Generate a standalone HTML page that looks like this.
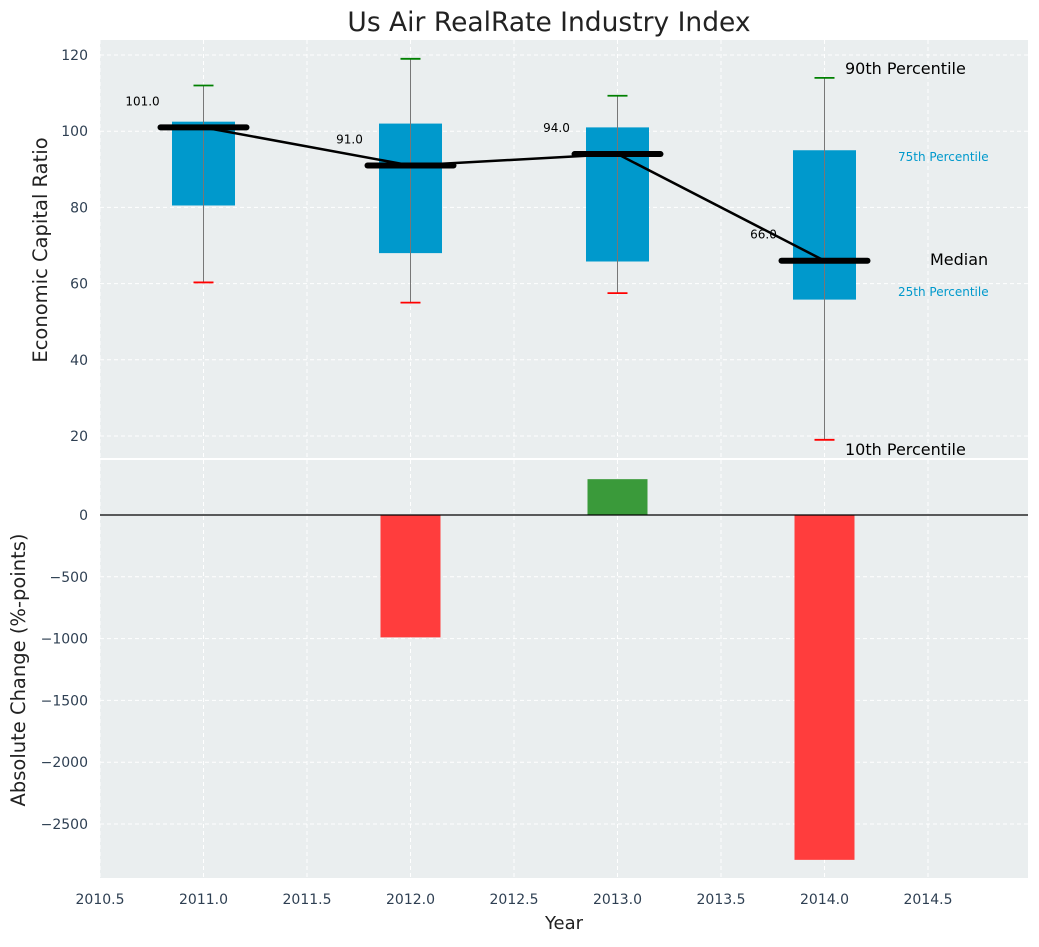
<!DOCTYPE html>
<html><head><meta charset="utf-8"><style>
body{margin:0;background:#fff;font-family:"Liberation Sans","DejaVu Sans",sans-serif}
svg text{font-family:"DejaVu Sans","Liberation Sans",sans-serif}
</style></head><body>
<svg id="chart" width="1039" height="942" xmlns="http://www.w3.org/2000/svg"></svg>
<script>
const years=[2011,2012,2013,2014];
const q1=[80.5,68,65.8,55.8];
const q3=[102.5,102,101,95];
const medians=[101,91,94,66];
const p10=[60.3,55,57.5,19];
const p90=[112,119,109.3,114];
const changes=[0,-990,290,-2790];
const xTicks=[2010.5,2011,2011.5,2012,2012.5,2013,2013.5,2014,2014.5];
const yTopTicks=[20,40,60,80,100,120];
const yBotTicks=[0,-500,-1000,-1500,-2000,-2500];

const svg=document.getElementById('chart');
const NS='http://www.w3.org/2000/svg';
function el(t,a,txt){const e=document.createElementNS(NS,t);for(const k in a)e.setAttribute(k,a[k]);if(txt!==undefined)e.textContent=txt;svg.appendChild(e);return e;}
const L=100,R=1028;
const X=v=>L+(v-2010.5)*207;
const T0=40,T1=458,B0=460,B1=878;
const YT=v=>55+(120-v)*3.81;
const YB=v=>515-v*0.1236;

let e;
e=el('rect',{x:L,y:T0,width:R-L,height:T1-T0,fill:'#eaeeef'});

e=el('rect',{x:L,y:B0,width:R-L,height:B1-B0,fill:'#eaeeef'});


xTicks.forEach(t=>{
  el('line',{x1:X(t),x2:X(t),y1:T0,y2:T1,stroke:'#fff','stroke-dasharray':'4,3','stroke-width':1});
  el('line',{x1:X(t),x2:X(t),y1:B0,y2:B1,stroke:'#fff','stroke-dasharray':'4,3','stroke-width':1});
  e=el('text',{x:X(t),y:904,'text-anchor':'middle','font-size':14,fill:'#2e3f52'},t.toFixed(1));
  
});
yTopTicks.forEach(t=>{
  el('line',{x1:L,x2:R,y1:YT(t),y2:YT(t),stroke:'#fff','stroke-dasharray':'4,3'});
  e=el('text',{x:88,y:YT(t)+5,'text-anchor':'end','font-size':14,fill:'#2e3f52'},t);
  
});
yBotTicks.forEach(t=>{
  el('line',{x1:L,x2:R,y1:YB(t),y2:YB(t),stroke:'#fff','stroke-dasharray':'4,3'});
  e=el('text',{x:88,y:YB(t)+5,'text-anchor':'end','font-size':14,fill:'#2e3f52'},t===0?'0':'\u2212'+Math.abs(t));
  
});

years.forEach((y,i)=>{
  const cx=X(y);
  e=el('rect',{x:cx-31.5,y:YT(q3[i]),width:63,height:YT(q1[i])-YT(q3[i]),fill:'#0099cc'});
  
  el('line',{x1:cx,x2:cx,y1:YT(p90[i]),y2:YT(p10[i]),stroke:'#777','stroke-width':1});
  e=el('line',{x1:cx-10,x2:cx+10,y1:YT(p90[i]),y2:YT(p90[i]),stroke:'green','stroke-width':1.8});
  
  e=el('line',{x1:cx-10,x2:cx+10,y1:YT(p10[i]),y2:YT(p10[i]),stroke:'red','stroke-width':1.8});
  
});
let pts=years.map((y,i)=>X(y)+','+YT(medians[i])).join(' ');
e=el('polyline',{points:pts,fill:'none',stroke:'#000','stroke-width':2.5});

years.forEach((y,i)=>{
  const cx=X(y);
  e=el('line',{x1:cx-43,x2:cx+43,y1:YT(medians[i]),y2:YT(medians[i]),stroke:'#000','stroke-width':6,'stroke-linecap':'round'});
  
  e=el('text',{x:cx-61,y:YT(medians[i])-22,'text-anchor':'middle','font-size':12,fill:'#000'},medians[i].toFixed(1));
  
});
const ann=[['90th Percentile',845,74,16,'#000'],['75th Percentile',898,161,12,'#0099cc'],['Median',930,265,16,'#000'],['25th Percentile',898,296,12,'#0099cc'],['10th Percentile',845,455,16,'#000']];
ann.forEach(a=>{e=el('text',{x:a[1],y:a[2],'font-size':a[3],fill:a[4]},a[0]);});

years.forEach((y,i)=>{
  const v=changes[i];if(v===0)return;
  const y0=YB(Math.max(v,0)),y1=YB(Math.min(v,0));
  e=el('rect',{x:X(y)-30,y:y0,width:60,height:y1-y0,fill:v<0?'#ff3d3d':'#3a9a3a'});
  
});
e=el('line',{x1:L,x2:R,y1:YB(0),y2:YB(0),stroke:'#000','stroke-width':1.2});


e=el('text',{x:549,y:31,'text-anchor':'middle','font-size':26.5,fill:'#222'},'Us Air RealRate Industry Index');

e=el('text',{x:564,y:929,'text-anchor':'middle','font-size':18,fill:'#222'},'Year');

e=el('text',{x:0,y:0,'text-anchor':'middle','font-size':19.5,fill:'#222',transform:'translate(47,250) rotate(-90)'},'Economic Capital Ratio');

e=el('text',{x:0,y:0,'text-anchor':'middle','font-size':19.5,fill:'#222',transform:'translate(25,670) rotate(-90)'},'Absolute Change (%-points)');

</script>
</body></html>
